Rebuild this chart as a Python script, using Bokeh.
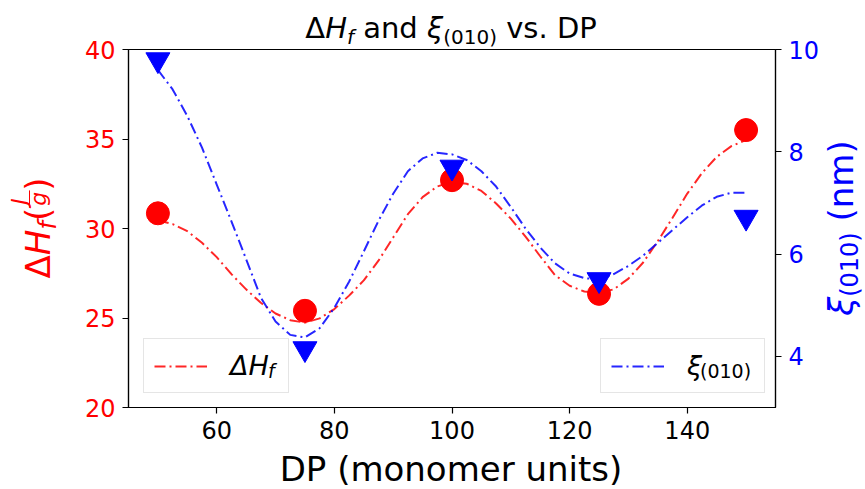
from bokeh.plotting import figure
from bokeh.models import (Range1d, LinearAxis, FixedTicker, Legend, LegendItem, Div,
                          GridBox)
from bokeh.core.properties import value
from bokeh.embed import file_html
from bokeh.resources import INLINE

# ---- data ----
dp = [50, 75, 100, 125, 150]
dh_f = [30.85, 25.4, 32.7, 26.35, 35.5]        # ΔH_f (J/g), left axis
xi_010 = [9.8, 4.15, 7.7, 5.5, 6.72]           # ξ(010) (nm), right axis

# smoothed fit curves as drawn in the reference
dp_fit = [50, 52.5, 55, 57.5, 60, 62.5, 65, 67.5, 70, 72.5, 75, 77.5, 80, 82.5,
          85, 87.5, 90, 92.5, 95, 97.5, 100, 102.5, 105, 107.5, 110, 112.5, 115,
          117.5, 120, 122.5, 125, 127.5, 130, 132.5, 135, 137.5, 140, 142.5, 145,
          147.5, 150]
dh_fit = [30.45, 30.25, 29.85, 29.2, 28.4, 27.45, 26.6, 25.85, 25.25, 24.88, 24.74,
          24.98, 25.5, 26.25, 27.1, 28.2, 29.5, 30.8, 31.75, 32.35, 32.6, 32.5, 32.1,
          31.4, 30.55, 29.55, 28.45, 27.4, 26.8, 26.48, 26.4, 26.6, 27.2, 28.1, 29.3,
          30.6, 31.95, 33.1, 34.0, 34.6, 34.95]
xi_fit = [9.6, 9.22, 8.7, 8.08, 7.36, 6.64, 5.9, 5.15, 4.68, 4.42, 4.37, 4.55, 4.95,
          5.46, 6.05, 6.65, 7.18, 7.62, 7.87, 7.98, 7.95, 7.84, 7.62, 7.32, 6.92, 6.5,
          6.13, 5.82, 5.62, 5.53, 5.5, 5.61, 5.77, 5.97, 6.22, 6.47, 6.72, 6.95, 7.12,
          7.2, 7.2]

x_ticks = [60, 80, 100, 120, 140]
left_ticks = [20, 25, 30, 35, 40]
right_ticks = [4, 6, 8, 10]

RED = "#ff0000"
BLUE = "#0000ff"
FONT = "DejaVu Sans"

p = figure(width=865, height=489, output_backend="svg", toolbar_location=None,
           x_range=Range1d(45, 155), y_range=Range1d(20, 40))
p.extra_y_ranges = {"xi": Range1d(3, 10)}
p.min_border_left = 128
p.min_border_right = 90
p.min_border_top = 49
p.min_border_bottom = 82
p.background_fill_color = "white"
p.border_fill_color = "white"
p.outline_line_color = "black"
p.outline_line_width = 1.2
p.xgrid.visible = False
p.ygrid.visible = False

ax2 = LinearAxis(y_range_name="xi")
p.add_layout(ax2, "right")

p.xaxis[0].ticker = FixedTicker(ticks=x_ticks)
p.yaxis[0].ticker = FixedTicker(ticks=left_ticks)
ax2.ticker = FixedTicker(ticks=right_ticks)

for ax, col in [(p.xaxis[0], "black"), (p.yaxis[0], RED), (ax2, BLUE)]:
    ax.axis_line_color = "black"
    ax.axis_line_width = 1.2
    ax.major_tick_line_color = "black"
    ax.major_tick_line_width = 1.2
    ax.major_tick_in = 0
    ax.major_tick_out = 6
    ax.minor_tick_line_color = None
    ax.major_label_text_font = FONT
    ax.major_label_text_font_size = "24px"
    ax.major_label_text_color = col
    ax.major_label_standoff = 7

# ---- glyphs ----
p.scatter(dp, dh_f, marker="circle", size=23, color=RED)
red_line = p.line(dp_fit, dh_fit, line_color=RED, line_width=2, line_alpha=0.85,
                  line_dash="11 4 2 4")
p.scatter(dp, xi_010, marker="inverted_triangle", size=24, color=BLUE,
          y_range_name="xi")
blue_line = p.line(dp_fit, xi_fit, line_color=BLUE, line_width=2, line_alpha=0.85,
                   line_dash="11 4 2 4", y_range_name="xi")


# ---- legends ----
def make_legend(label, renderer, loc, lw):
    lg = Legend(items=[LegendItem(label=value(label), renderers=[renderer])],
                location=loc, orientation="vertical",
                glyph_width=53, glyph_height=20, label_standoff=23,
                label_width=lw, label_height=33, padding=10, margin=0,
                border_line_color="#cccccc", border_line_width=1,
                background_fill_color="white", background_fill_alpha=0.8,
                label_text_font=FONT, label_text_font_size="27px",
                label_text_font_style="italic", label_text_color="black")
    p.add_layout(lg, "center")


make_legend("ΔH", red_line, (15, 14), 48)
make_legend("ξ", blue_line, (472, 14), 67)

# ---- texts outside the frame: an overlay of real HTML text (page pixels) ----
ASC = 0.846  # baseline offset in a line-height:1 box for DejaVu Sans


def span(html, left, base, size, color="black", italic=False, extra=""):
    top = base - ASC * size
    st = "italic" if italic else "normal"
    return (f'<span style="position:absolute;left:{left:.1f}px;top:{top:.1f}px;'
            f'font-size:{size}px;line-height:1;white-space:nowrap;color:{color};'
            f'font-style:{st};{extra}">{html}</span>')


def sub(text, size, drop, italic=False):
    st = "italic" if italic else "normal"
    return (f'<span style="font-size:{size}px;position:relative;top:{drop}px;'
            f'font-style:{st}">{text}</span>')


def vlabel(html, base_x, center_y, size, color):
    left = base_x - ASC * size
    return (f'<div style="position:absolute;left:{left:.1f}px;top:{center_y}px;'
            f'transform-origin:0 0;transform:rotate(-90deg) translateX(-50%);'
            f'font-size:{size}px;line-height:1;white-space:nowrap;color:{color}">'
            f'{html}</div>')


parts = []
# title
title_html = ("Δ<i>H</i>" + sub("f", 20, 6, True) + " and <i>ξ</i>" +
              sub("(010)", 20, 6) + " vs. DP")
parts.append(span(title_html, 451, 38, 29, extra="transform:translateX(-50%)"))
# x axis label
parts.append(span("DP (monomer units)", 451, 481, 34,
                  extra="transform:translateX(-50%)"))
# left axis label: ΔH_f (J/g)
frac = (
    '<span style="display:inline-block;position:relative;width:17px;height:0">'
    f'<span style="position:absolute;left:3px;top:{-22.4 - ASC * 22:.1f}px;'
    'font-size:22px;line-height:1;font-style:italic">J</span>'
    '<span style="position:absolute;left:0;top:-21.2px;width:17px;height:0;'
    'border-top:1.5px solid #ff0000"></span>'
    f'<span style="position:absolute;left:2px;top:{-3 - ASC * 22:.1f}px;'
    'font-size:22px;line-height:1;font-style:italic">g</span></span>'
)
left_html = "Δ<i>H</i>" + sub("f", 24, 6, True) + "(" + frac + ")"
parts.append(vlabel(left_html, 50, 228, 34, RED))
# right axis label: ξ_(010) (nm)
right_html = "<i>ξ</i>" + sub("(010)", 24, 5) + " (nm)"
parts.append(vlabel(right_html, 853, 228, 34, BLUE))
# legend subscripts
parts.append(span("f", 268, 378, 19, italic=True))
parts.append(span("(010)", 700, 378, 19))

overlay_html = ('<div style="position:relative;width:865px;height:489px;'
                f'font-family:\'{FONT}\';pointer-events:none">' + "".join(parts) +
                "</div>")
overlay = Div(text=overlay_html, width=865, height=489, margin=0,
              styles={"pointer-events": "none", "overflow": "visible"})

layout = GridBox(children=[(p, 0, 0), (overlay, 0, 0)], width=865, height=489)

open("out.html", "w").write(file_html(layout, INLINE))
